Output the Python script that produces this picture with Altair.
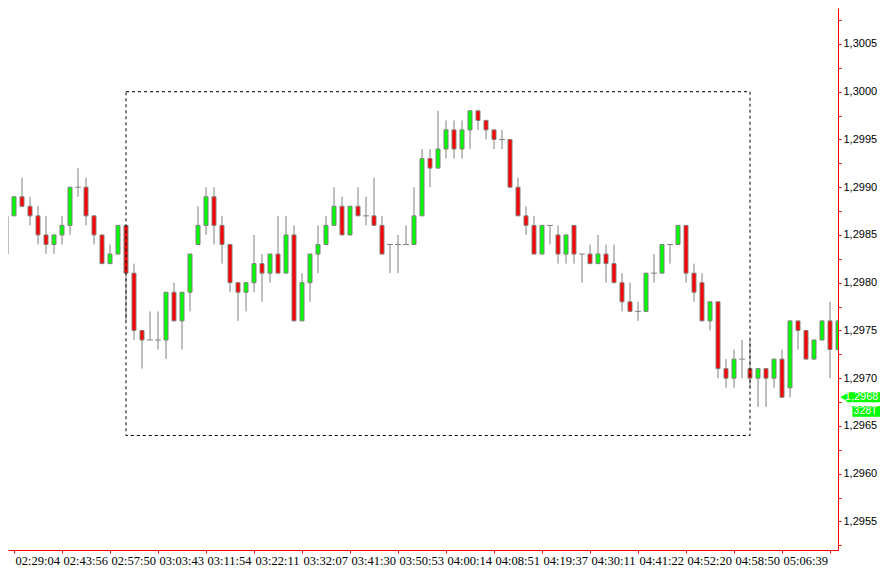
import altair as alt
import pandas as pd

# ---- data (price candles, one per index) ----
opens = [1.2983, 1.2987, 1.2989, 1.2988, 1.2987, 1.2985, 1.2984, 1.2985, 1.2986, 1.2990,
         1.2990, 1.2987, 1.2985, 1.2982, 1.2983, 1.2986, 1.2981, 1.2975, 1.2974, 1.2974,
         1.2974, 1.2979, 1.2976, 1.2979, 1.2984, 1.2986, 1.2989, 1.2986, 1.2984, 1.2980,
         1.2979, 1.2980, 1.2982, 1.2981, 1.2983, 1.2981, 1.2985, 1.2976, 1.2980, 1.2983,
         1.2984, 1.2986, 1.2988, 1.2985, 1.2988, 1.2987, 1.2987, 1.2986, 1.2984, 1.2984,
         1.2984, 1.2984, 1.2987, 1.2993, 1.2992, 1.2994, 1.2996, 1.2994, 1.2996, 1.2998,
         1.2997, 1.2996, 1.2995, 1.2995, 1.2990, 1.2987, 1.2986, 1.2983, 1.2986, 1.2985,
         1.2983, 1.2986, 1.2983, 1.2983, 1.2982, 1.2983, 1.2982, 1.2980, 1.2978, 1.2977,
         1.2977, 1.2981, 1.2981, 1.2984, 1.2984, 1.2986, 1.2981, 1.2980, 1.2976, 1.2978,
         1.2971, 1.2970, 1.2972, 1.2971, 1.2970, 1.2971, 1.2970, 1.2972, 1.2969, 1.2976,
         1.2975, 1.2972, 1.2974, 1.2976, 1.2973]
highs = [1.2987, 1.2989, 1.2991, 1.2989, 1.2988, 1.2987, 1.2985, 1.2987, 1.2990, 1.2992,
         1.2991, 1.2987, 1.2985, 1.2984, 1.2986, 1.2986, 1.2982, 1.2975, 1.2977, 1.2977,
         1.2979, 1.2980, 1.2979, 1.2983, 1.2988, 1.2990, 1.2990, 1.2987, 1.2984, 1.2980,
         1.2980, 1.2985, 1.2983, 1.2983, 1.2987, 1.2987, 1.2986, 1.2981, 1.2983, 1.2986,
         1.2987, 1.2990, 1.2989, 1.2988, 1.2990, 1.2989, 1.2991, 1.2987, 1.2984, 1.2985,
         1.2986, 1.2990, 1.2994, 1.2994, 1.2998, 1.2997, 1.2997, 1.2997, 1.2998, 1.2998,
         1.2997, 1.2996, 1.2996, 1.2995, 1.2991, 1.2988, 1.2987, 1.2986, 1.2986, 1.2986,
         1.2985, 1.2986, 1.2983, 1.2984, 1.2985, 1.2984, 1.2984, 1.2981, 1.2980, 1.2978,
         1.2981, 1.2983, 1.2984, 1.2984, 1.2986, 1.2986, 1.2982, 1.2981, 1.2978, 1.2978,
         1.2972, 1.2973, 1.2974, 1.2974, 1.2971, 1.2971, 1.2972, 1.2973, 1.2976, 1.2976,
         1.2975, 1.2974, 1.2976, 1.2978, 1.2976]
lows = [1.2983, 1.2987, 1.2988, 1.2986, 1.2984, 1.2983, 1.2983, 1.2984, 1.2985, 1.2989,
        1.2986, 1.2984, 1.2982, 1.2982, 1.2983, 1.2976, 1.2974, 1.2971, 1.2974, 1.2973,
        1.2972, 1.2976, 1.2973, 1.2977, 1.2984, 1.2985, 1.2984, 1.2982, 1.2979, 1.2976,
        1.2977, 1.2979, 1.2978, 1.2980, 1.2981, 1.2981, 1.2976, 1.2976, 1.2978, 1.2981,
        1.2984, 1.2986, 1.2985, 1.2985, 1.2987, 1.2986, 1.2986, 1.2983, 1.2981, 1.2981,
        1.2984, 1.2984, 1.2987, 1.2990, 1.2992, 1.2993, 1.2993, 1.2993, 1.2994, 1.2996,
        1.2995, 1.2994, 1.2994, 1.2990, 1.2987, 1.2985, 1.2983, 1.2983, 1.2984, 1.2982,
        1.2982, 1.2982, 1.2980, 1.2982, 1.2982, 1.2980, 1.2980, 1.2977, 1.2977, 1.2976,
        1.2977, 1.2980, 1.2981, 1.2982, 1.2984, 1.2980, 1.2978, 1.2976, 1.2975, 1.2970,
        1.2969, 1.2969, 1.2970, 1.2969, 1.2967, 1.2967, 1.2969, 1.2968, 1.2968, 1.2973,
        1.2972, 1.2972, 1.2974, 1.2970, 1.2973]
closes = [1.2987, 1.2989, 1.2988, 1.2987, 1.2985, 1.2984, 1.2985, 1.2986, 1.2990, 1.2990,
          1.2987, 1.2985, 1.2982, 1.2983, 1.2986, 1.2981, 1.2975, 1.2974, 1.2974, 1.2974,
          1.2979, 1.2976, 1.2979, 1.2983, 1.2986, 1.2989, 1.2986, 1.2984, 1.2980, 1.2979,
          1.2980, 1.2982, 1.2981, 1.2983, 1.2981, 1.2985, 1.2976, 1.2980, 1.2983, 1.2984,
          1.2986, 1.2988, 1.2985, 1.2988, 1.2987, 1.2987, 1.2986, 1.2983, 1.2984, 1.2984,
          1.2984, 1.2987, 1.2993, 1.2992, 1.2994, 1.2996, 1.2994, 1.2996, 1.2998, 1.2997,
          1.2996, 1.2995, 1.2995, 1.2990, 1.2987, 1.2986, 1.2983, 1.2986, 1.2986, 1.2983,
          1.2985, 1.2983, 1.2983, 1.2982, 1.2983, 1.2982, 1.2980, 1.2978, 1.2977, 1.2977,
          1.2981, 1.2981, 1.2984, 1.2984, 1.2986, 1.2981, 1.2979, 1.2976, 1.2978, 1.2971,
          1.2970, 1.2972, 1.2972, 1.2970, 1.2971, 1.2970, 1.2972, 1.2968, 1.2976, 1.2975,
          1.2972, 1.2974, 1.2976, 1.2973, 1.2976]

# time labels: one every 6 candles, starting at candle 1
time_labels = ["02:29:04", "02:43:56", "02:57:50", "03:03:43", "03:11:54", "03:22:11",
               "03:32:07", "03:41:30", "03:50:53", "04:00:14", "04:08:51", "04:19:37",
               "04:30:11", "04:41:22", "04:52:20", "04:58:50", "05:06:39", ""]
label_first = 1
label_step = 6
label_positions = [label_first + label_step * i for i in range(len(time_labels))]

# price axis ticks (every 0.00025, labels every 0.0005)
price_ticks = [round(1.29525 + 0.00025 * i, 5) for i in range(23)]

# dashed selection box (candle index / price)
box_x = [15]
box_x2 = [93]
box_top = [1.3000]
box_bottom = [1.2964]

# current-price tag
tag_price = 1.2968
tag_text = "1,2968"
tick_count_text = "328T"

x_domain = [0.25, 104.0]
y_domain = [1.295201, 1.3008764]

RED = "#ff0000"
GREEN = "#00ff00"
GRAY = "#808080"

df = pd.DataFrame({
    "k": list(range(len(opens))),
    "open": opens, "high": highs, "low": lows, "close": closes,
})
df["dir"] = ["up" if c > o else ("down" if c < o else "flat") for o, c in zip(opens, closes)]

xs = alt.Scale(domain=x_domain, zero=False, nice=False, padding=0)
ys = alt.Scale(domain=y_domain, zero=False, nice=False, padding=0)

x_label_expr = "".join(
    "datum.value == %d ? '%s' : " % (p, s) for p, s in zip(label_positions, time_labels)
) + "''"

x_axis = alt.Axis(
    values=label_positions,
    labelExpr=x_label_expr,
    orient="bottom", title=None, grid=False,
    domainColor=RED, domainWidth=1, tickColor=RED, tickSize=3, tickWidth=1,
    labelColor="black", labelFont="Liberation Sans Narrow", labelFontSize=12.5,
    labelAlign="left", labelBaseline="top", labelPadding=1, labelOffset=1,
    labelOverlap=False, labelFlush=False,
)
y_axis = alt.Axis(
    values=price_ticks,
    labelExpr="abs(datum.value*2000 - round(datum.value*2000)) < 0.01 ? "
              "replace(format(datum.value, '.4f'), '.', ',') : ''",
    orient="right", title=None, grid=False,
    domainColor=RED, domainWidth=1, tickColor=RED, tickSize=3, tickWidth=1,
    labelColor="black", labelFont="Liberation Sans", labelFontSize=11,
    labelAlign="left", labelBaseline="middle", labelPadding=2,
    labelOverlap=False, labelFlush=False,
)


def X(field):
    return alt.X(field, type="quantitative", scale=xs, axis=x_axis, title=None)


def Y(field):
    return alt.Y(field, type="quantitative", scale=ys, axis=y_axis, title=None)


base = alt.Chart(df)

wicks = base.mark_rule(color=GRAY, strokeWidth=1, clip=True).encode(
    x=X("k"), y=Y("low"), y2="high",
)

bodies = base.transform_filter("datum.open != datum.close").mark_bar(
    size=4, stroke=GRAY, strokeWidth=1, clip=True
).encode(
    x=X("k"), y=Y("open"), y2="close",
    color=alt.Color("dir:N", scale=alt.Scale(domain=["up", "down"], range=[GREEN, RED]), legend=None),
)

dojis = base.transform_filter("datum.open == datum.close").transform_calculate(
    xa="datum.k - 0.36", xb="datum.k + 0.36"
).mark_rule(color=GRAY, strokeWidth=1, clip=True).encode(
    x=X("xa"), x2="xb", y=Y("open"),
)

box_df = pd.DataFrame({"x": box_x, "x2": box_x2, "y": box_top, "y2": box_bottom})
box = alt.Chart(box_df).mark_rect(
    fillOpacity=0, stroke="black", strokeWidth=1, strokeDash=[3, 3]
).encode(x=X("x"), x2="x2", y=Y("y"), y2="y2")

tag_df = pd.DataFrame({
    "x": [105.1], "x2": [110.5],
    "y": [tag_price + 0.000052], "y2": [tag_price - 0.000052],
})
tag_rect = alt.Chart(tag_df).mark_rect(color=GREEN).encode(
    x=X("x"), x2="x2", y=Y("y"), y2="y2")
arrow = alt.Chart(pd.DataFrame({"x": [104.75], "y": [tag_price]})).mark_point(
    shape="triangle-left", filled=True, color=GREEN, opacity=1, size=70
).encode(x=X("x"), y=Y("y"))
tag_label = alt.Chart(pd.DataFrame({"x": [104.85], "y": [tag_price], "t": [tag_text]})).mark_text(
    color="white", font="Liberation Sans", fontSize=11, align="left", baseline="middle"
).encode(x=X("x"), y=Y("y"), text="t:N")

cnt_df = pd.DataFrame({
    "x": [105.8], "x2": [110.0],
    "y": [tag_price - 0.000090], "y2": [tag_price - 0.000205],
})
cnt_rect = alt.Chart(cnt_df).mark_rect(color=GREEN).encode(
    x=X("x"), x2="x2", y=Y("y"), y2="y2")
cnt_label = alt.Chart(pd.DataFrame({"x": [105.95], "y": [tag_price - 0.000147], "t": [tick_count_text]})).mark_text(
    color="white", font="Liberation Sans", fontSize=10.5, align="left", baseline="middle"
).encode(x=X("x"), y=Y("y"), text="t:N")

chart = alt.layer(
    wicks, bodies, dojis, box, tag_rect, arrow, tag_label, cnt_rect, cnt_label
).properties(
    width=830, height=542,
    padding={"left": 0, "top": 0, "right": 42, "bottom": 17},
    autosize=alt.AutoSizeParams(type="none"),
    background="white",
).configure_view(strokeWidth=0)

chart.save("out.html", embed_options={"renderer": "svg", "actions": False})
